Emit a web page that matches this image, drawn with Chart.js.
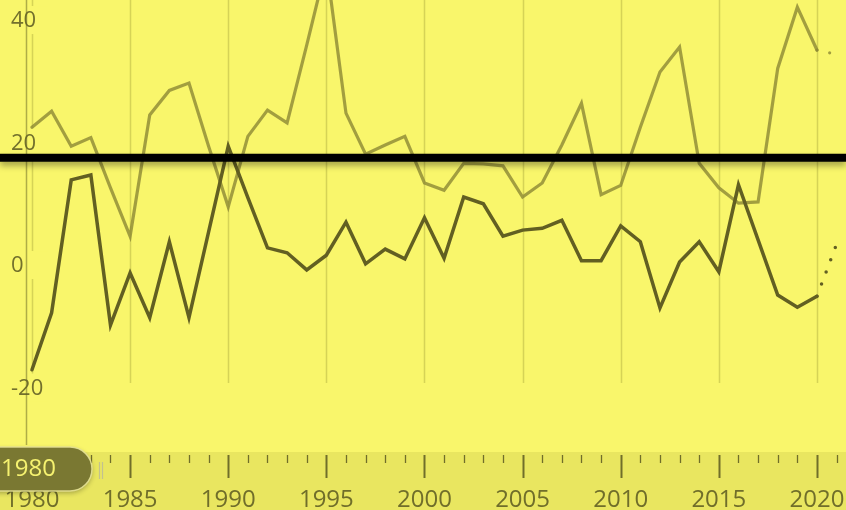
<!DOCTYPE html>
<html>
<head>
<meta charset="utf-8">
<script src="https://cdn.jsdelivr.net/npm/chart.js@4/dist/chart.umd.min.js"></script>
<style>
  html, body { margin: 0; padding: 0; background: #f9f66b; overflow: hidden; }
  #chart { display: block; }
</style>
</head>
<body>
<canvas id="chart" width="846" height="510"></canvas>
<script>
// years, the last one is the projection (dotted)
const years = [1980, 1981, 1982, 1983, 1984, 1985, 1986, 1987, 1988, 1989,
  1990, 1991, 1992, 1993, 1994, 1995, 1996, 1997, 1998, 1999,
  2000, 2001, 2002, 2003, 2004, 2005, 2006, 2007, 2008, 2009,
  2010, 2011, 2012, 2013, 2014, 2015, 2016, 2017, 2018, 2019,
  2020, 2021];

const lightSeries = [22.5, 25.1, 19.4, 20.8, 12.6, 4.7, 24.5, 28.5, 29.7, 19.4,
  9.5, 21.0, 25.3, 23.2, 35.9, 49.0, 24.8, 18.1, 19.6, 21.0,
  13.4, 12.2, 16.6, 16.5, 16.2, 11.1, 13.4, 19.6, 26.4, 11.5,
  13.0, 22.5, 31.5, 35.6, 16.6, 12.6, 10.1, 10.3, 32.1, 42.1,
  35.1, 34.4];

const darkSeries = [-17.1, -7.8, 13.9, 14.7, -9.8, -1.3, -8.6, 3.8, -8.6, 5.4,
  19.4, 11.0, 2.8, 2.0, -0.8, 1.6, 7.0, 0.2, 2.6, 1.0,
  7.7, 1.1, 11.1, 10.0, 4.7, 5.7, 6.0, 7.3, 0.7, 0.7,
  6.4, 3.8, -7.0, 0.5, 3.8, -1.1, 13.1, 4.1, -4.9, -6.9,
  -5.1, 3.4];

const referenceLevel = 17.5;
const lastActualYear = 2020;
const xTickLabels = [1980, 1985, 1990, 1995, 2000, 2005, 2010, 2015, 2020];
const yTickLabels = [40, 20, 0, -20];

const xMin = 1978.37, xMax = 2021.48;
const yMin = -40, yMax = 43.27;

const FONT = '"Open Sans", "Noto Sans", sans-serif';
const olive = 'rgb(112,110,42)';

function toPoints(values) {
  return years.map((y, i) => ({ x: y, y: values[i] }));
}

const dotted = ctx => ctx.p1.parsed.x > lastActualYear ? [0, 13] : undefined;

// background, grid, y labels (under the lines)
const underlay = {
  id: 'underlay',
  beforeDatasetsDraw(chart) {
    const c = chart.ctx, xs = chart.scales.x, ys = chart.scales.y;
    c.save();
    c.fillStyle = '#f9f66b';
    c.fillRect(0, 0, chart.width, chart.height);

    c.strokeStyle = 'rgba(185,182,70,0.55)';
    c.lineWidth = 1.5;
    for (let yr = 1980; yr <= 2020; yr += 5) {
      const px = Math.round(xs.getPixelForValue(yr)) + 0.5;
      c.beginPath();
      c.moveTo(px, 0);
      c.lineTo(px, 383);
      c.stroke();
    }

    // label backing so the first grid line breaks around the numbers
    c.font = '22px ' + FONT;
    c.textBaseline = 'middle';
    c.textAlign = 'left';
    yTickLabels.forEach(v => {
      const py = ys.getPixelForValue(v);
      c.fillStyle = '#f9f66b';
      c.fillRect(28, py - 14, 20, 28);
    });

    c.strokeStyle = 'rgba(150,148,58,0.75)';
    c.lineWidth = 1.5;
    c.beginPath();
    c.moveTo(26.5, 0);
    c.lineTo(26.5, 445);
    c.stroke();

    c.fillStyle = 'rgba(100,98,38,0.9)';
    yTickLabels.forEach(v => {
      c.fillText(String(v), 11, ys.getPixelForValue(v) + 1);
    });
    c.restore();
  },
  beforeDatasetDraw(chart, args) {
    if (args.index === 0) {
      const c = chart.ctx;
      c.save();
      c.shadowColor = 'rgba(0,0,0,0.35)';
      c.shadowBlur = 6;
      c.shadowOffsetY = 4;
    }
  },
  afterDatasetDraw(chart, args) {
    if (args.index === 0) chart.ctx.restore();
  }
};

// bottom year band with ticks and the start-year pill
const overlay = {
  id: 'overlay',
  afterDatasetsDraw(chart) {
    const c = chart.ctx, xs = chart.scales.x;
    c.save();
    c.fillStyle = 'rgb(233,230,96)';
    c.fillRect(0, 452, chart.width, chart.height - 452);

    c.strokeStyle = olive;
    for (let yr = 1980; yr <= 2021; yr++) {
      const px = Math.round(xs.getPixelForValue(yr)) + 0.5;
      const major = yr % 5 === 0;
      c.lineWidth = major ? 2 : 1.3;
      c.beginPath();
      c.moveTo(px, 455);
      c.lineTo(px, major ? 478 : 463);
      c.stroke();
    }

    c.font = '24px ' + FONT;
    c.textAlign = 'center';
    c.textBaseline = 'middle';
    c.fillStyle = olive;
    xTickLabels.forEach(yr => c.fillText(String(yr), xs.getPixelForValue(yr), 500));

    // pill
    c.save();
    c.shadowColor = 'rgba(0,0,0,0.3)';
    c.shadowBlur = 5;
    c.shadowOffsetY = 2;
    c.beginPath();
    c.roundRect(-24, 447, 116, 44, 22);
    c.fillStyle = 'rgb(122,120,50)';
    c.fill();
    c.restore();
    c.beginPath();
    c.roundRect(-24, 447, 116, 44, 22);
    c.strokeStyle = 'rgba(230,226,150,0.9)';
    c.lineWidth = 1.5;
    c.stroke();

    c.fillStyle = 'rgb(246,242,112)';
    c.textAlign = 'left';
    c.fillText(String(years[0]), 1, 469);

    c.strokeStyle = 'rgba(190,188,150,0.9)';
    c.lineWidth = 1.2;
    [99, 102].forEach(px => {
      c.beginPath();
      c.moveTo(px + 0.5, 462);
      c.lineTo(px + 0.5, 479);
      c.stroke();
    });
    c.restore();
  }
};

new Chart(document.getElementById('chart'), {
  type: 'line',
  data: {
    datasets: [
      {
        label: 'reference',
        data: [{ x: xMin, y: referenceLevel }, { x: xMax, y: referenceLevel }],
        borderColor: '#000000',
        borderWidth: 8,
        pointRadius: 0,
        order: 0
      },
      {
        label: 'dark',
        data: toPoints(darkSeries),
        borderColor: 'rgb(98,95,34)',
        borderWidth: 3.5,
        borderCapStyle: 'round',
        pointRadius: 0,
        tension: 0,
        segment: { borderDash: dotted },
        order: 1
      },
      {
        label: 'light',
        data: toPoints(lightSeries),
        borderColor: 'rgba(140,136,52,0.8)',
        borderWidth: 3.2,
        borderCapStyle: 'round',
        pointRadius: 0,
        tension: 0,
        segment: { borderDash: dotted },
        order: 2
      }
    ]
  },
  options: {
    responsive: false,
    animation: false,
    layout: { padding: 0 },
    plugins: { legend: { display: false }, tooltip: { enabled: false } },
    scales: {
      x: { type: 'linear', min: xMin, max: xMax, display: false },
      y: { min: yMin, max: yMax, display: false }
    }
  },
  plugins: [underlay, overlay]
});
</script>
</body>
</html>
